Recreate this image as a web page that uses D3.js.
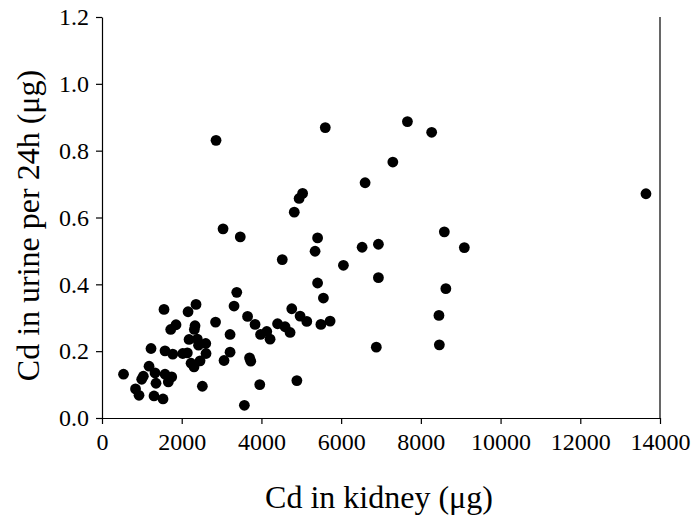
<!DOCTYPE html>
<html><head><meta charset="utf-8">
<script src="https://cdn.jsdelivr.net/npm/d3@7"></script>
<style>body{margin:0;background:#fff}svg text{font-family:"Liberation Serif","Times New Roman",serif;fill:#000}</style>
</head><body><svg id="c" width="691" height="519"></svg>
<script>
const kidneyCd = [540,841,929,1037,996,1180,1230,1330,1355,1305,1531,1556,1581,1581,1664,1749,1724,1857,1775,2026,2141,2159,2359,2184,2392,2334,2317,2603,2422,2610,2460,2234,2309,2518,2849,3213,3213,3062,3313,3381,3572,3652,3702,3732,3840,3958,3978,4134,4217,4405,4593,4719,4761,4889,4970,5138,5492,5723,5555,5409,5346,5409,6057,4523,4824,4945,5033,3037,3469,2861,5602,6601,6526,6935,6935,6882,7297,7663,8271,8589,9091,8627,8454,8464,13648];
const urineCd = [0.131,0.087,0.068,0.125,0.116,0.155,0.208,0.135,0.104,0.066,0.057,0.325,0.201,0.131,0.108,0.123,0.265,0.279,0.191,0.193,0.195,0.318,0.340,0.235,0.236,0.276,0.265,0.223,0.218,0.193,0.171,0.164,0.153,0.095,0.287,0.250,0.197,0.172,0.335,0.376,0.038,0.304,0.180,0.170,0.280,0.100,0.250,0.259,0.236,0.282,0.273,0.256,0.327,0.112,0.305,0.289,0.280,0.290,0.359,0.404,0.499,0.539,0.457,0.474,0.616,0.657,0.672,0.566,0.542,0.831,0.869,0.704,0.511,0.520,0.420,0.212,0.766,0.887,0.855,0.557,0.510,0.387,0.307,0.219,0.671];
const xTicks = [0,2000,4000,6000,8000,10000,12000,14000];
const yTicks = [0.0,0.2,0.4,0.6,0.8,1.0,1.2];
const xTitle = "Cd in kidney (\u03bcg)";
const yTitle = "Cd in urine per 24h (\u03bcg)";

const L=102,R=660,T=17,B=418;
const svg=d3.select("#c");
const x=d3.scaleLinear().domain([0,14000]).range([L,R]);
const y=d3.scaleLinear().domain([0,1.2]).range([B,T]);

svg.append("line").attr("x1",R).attr("x2",R).attr("y1",T).attr("y2",B).attr("stroke","#000").attr("stroke-width",1.2);

const gx=svg.append("g").attr("transform",`translate(0,${B})`)
  .call(d3.axisBottom(x).tickValues(xTicks).tickFormat(d3.format("d")).tickSize(6).tickSizeOuter(0).tickPadding(9));
const gy=svg.append("g").attr("transform",`translate(${L},0)`)
  .call(d3.axisLeft(y).tickValues(yTicks).tickFormat(d3.format(".1f")).tickSize(6).tickSizeOuter(0).tickPadding(7));
[gx,gy].forEach(g=>{g.attr("font-family",null).attr("font-size",null);
  g.selectAll("path").attr("stroke","#000").attr("stroke-width",1.2);
  g.selectAll("line").attr("stroke","#000").attr("stroke-width",1.2);
  g.selectAll("text").style("font-size","24px").style("font-family","'Liberation Serif',serif").attr("fill","#000");});

svg.append("g").selectAll("circle").data(kidneyCd.map((d,i)=>[d,urineCd[i]])).join("circle")
  .attr("cx",d=>x(d[0])).attr("cy",d=>y(d[1])).attr("r",5.4).attr("fill","#000");

svg.append("text").attr("x",(L+R)/2-2).attr("y",508).attr("text-anchor","middle").style("font-size","32px").text(xTitle);
svg.append("text").attr("transform",`translate(39,${(T+B)/2+8}) rotate(-90)`).attr("text-anchor","middle").style("font-size","32px").text(yTitle);
</script></body></html>
